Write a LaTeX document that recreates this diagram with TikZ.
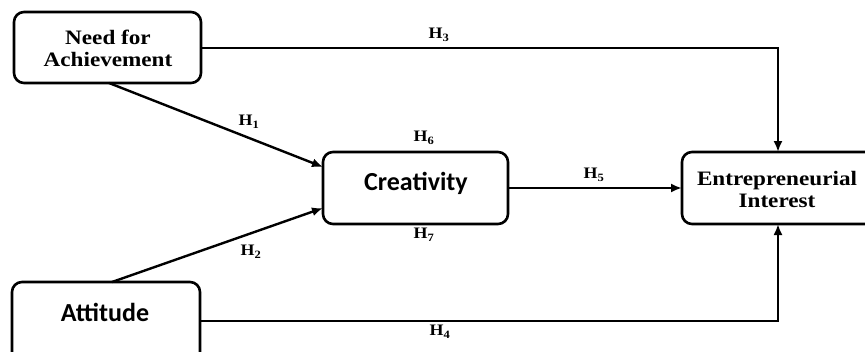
\documentclass[tikz,border=0pt]{standalone}
\usepackage{fontspec}
\usetikzlibrary{arrows.meta}
\newfontfamily\serifbx{Liberation Serif}[FakeStretch=1.13]
\newfontfamily\labfont{Liberation Serif}[FakeStretch=1.12]
\newfontfamily\sansbx{Carlito}
\begin{document}
\begin{tikzpicture}[x=1pt,y=-1pt,
  box/.style={draw, line width=2.6pt, rounded corners=10pt},
  serlab/.style={font=\serifbx\bfseries\fontsize{20.5}{22}\selectfont, align=center, inner sep=0pt},
  sanlab/.style={font=\sansbx\bfseries\fontsize{26}{28}\selectfont, inner sep=0pt},
  hyp/.style={font=\labfont\bfseries\fontsize{16}{18}\selectfont, inner sep=0pt},
  link/.style={line width=2.4pt, -{Latex[length=11pt,width=9pt]}}]
\useasboundingbox (0,0) rectangle (865,351);

% boxes
\draw[box] (14,12) rectangle (201,83);
\draw[box] (323,152) rectangle (508,224);
\draw[box] (682,152) rectangle (885,224);
\draw[box] (12,282) rectangle (200,380);

% box anchors and labels
\coordinate (nfaR) at (201,48);
\coordinate (nfaB) at (109,83);
\coordinate (creL1) at (323,167);
\coordinate (creL2) at (323,208);
\coordinate (creR) at (508,188);
\coordinate (eiL) at (682,188);
\coordinate (eiT) at (778,152);
\coordinate (eiB) at (778,224);
\coordinate (attT) at (112,282);
\coordinate (attR) at (200,321);
\coordinate (c3) at (778,48);
\coordinate (c4) at (778,321);

\node[serlab] (nfa) at (108,48) {Need for\\Achievement};
\node[sanlab] (cre) at (416,183) {Creativity};
\node[serlab] (ei) at (777,189) {Entrepreneurial\\Interest};
\node[sanlab] (att) at (105,312) {Attitude};

% paths
\draw[link] (nfaR) -- (c3) -- (eiT);
\draw[link] (attR) -- (c4) -- (eiB);
\draw[link] (nfaB) -- (creL1);
\draw[link] (attT) -- (creL2);
\draw[link] (creR) -- (eiL);

% hypothesis labels
\node[hyp] (h1) at (249,122) {H\textsubscript{1}};
\node[hyp] (h2) at (251,252) {H\textsubscript{2}};
\node[hyp] (h3) at (439,35) {H\textsubscript{3}};
\node[hyp] (h4) at (440,332) {H\textsubscript{4}};
\node[hyp] (h5) at (594,175) {H\textsubscript{5}};
\node[hyp] (h6) at (424,138) {H\textsubscript{6}};
\node[hyp] (h7) at (424,235) {H\textsubscript{7}};
\end{tikzpicture}
\end{document}
